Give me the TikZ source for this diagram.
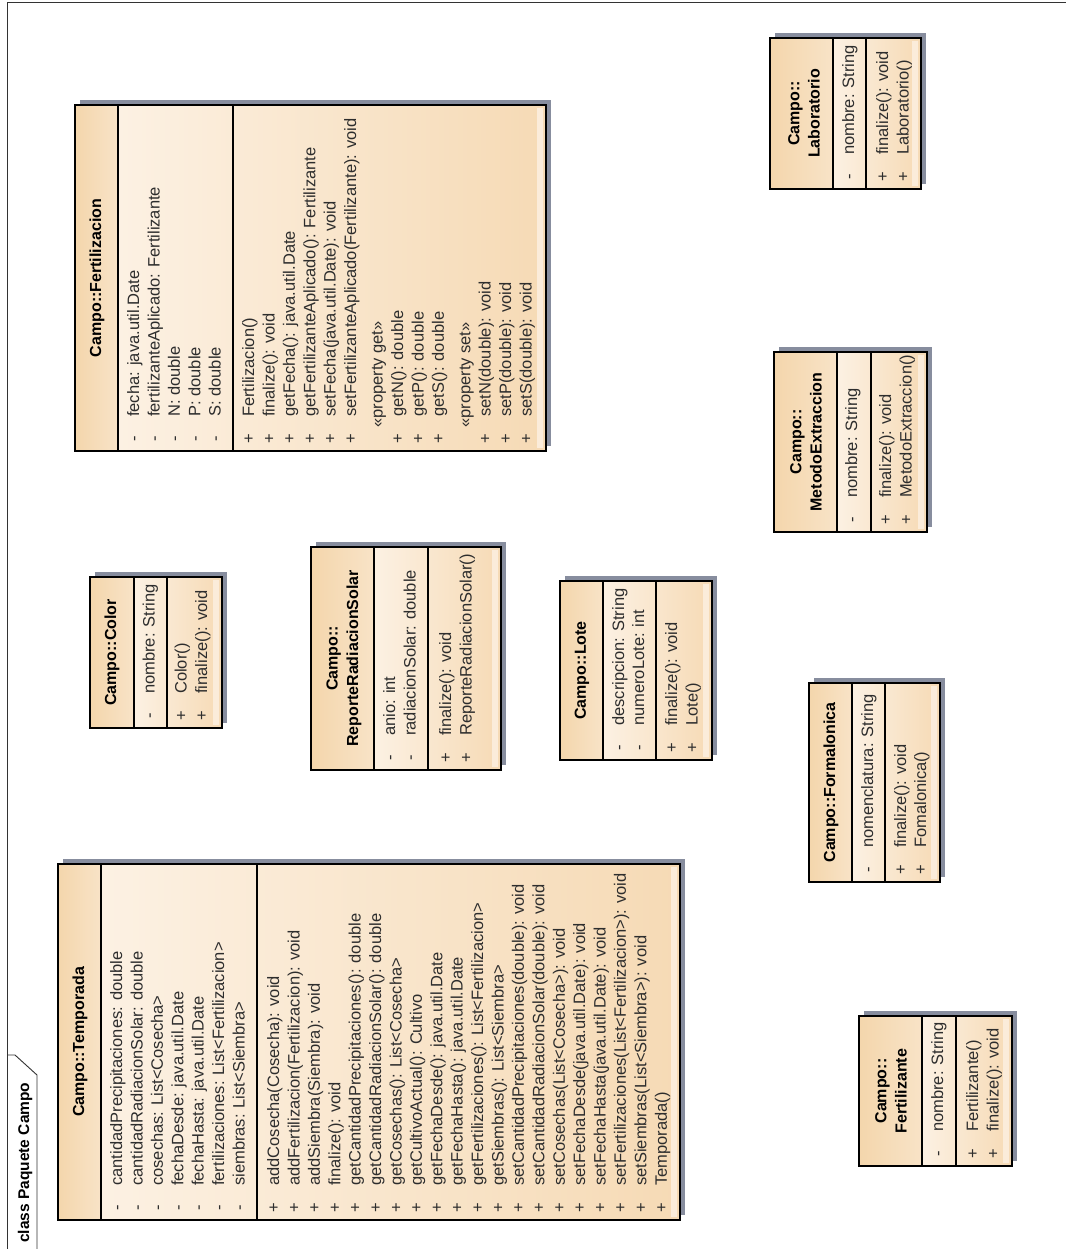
\documentclass[tikz,border=0pt]{standalone}
\usepackage{fontspec}
\setmainfont{Liberation Sans}
\definecolor{shadowc}{RGB}{135,141,158}
\definecolor{bodyl}{RGB}{252,241,227}
\definecolor{bodyr}{RGB}{246,218,181}
\definecolor{headl}{RGB}{244,214,172}
\definecolor{headr}{RGB}{248,227,199}
\definecolor{stripc}{RGB}{251,236,218}
\definecolor{txt}{RGB}{45,45,45}
% class box: left, top, right, bottom, header separator, attribute separator
\newcommand\umlbox[6]{%
  \fill[shadowc] (#1+5,#2-5) rectangle (#3+5,#4-5);
  \fill[bodyshade] (#5,#2) rectangle (#3,#4);
  \fill[headshade] (#1,#2) rectangle (#5,#4);
  \fill[stripc] (#3-9,#2+3) rectangle (#3-3,#4-3);
  \draw[sepline] (#5,#2) -- (#5,#4) (#6,#2) -- (#6,#4);
  \draw[outline] (#1,#2) rectangle (#3,#4);
}
% one feature line: name, x of line, box bottom, visibility, text
\newcommand\feat[5]{%
  \node[vis] (#1-v) at (#2+1.5,#3-12) {#4};
  \node[member] (#1) at (#2+1.5,#3-34) {#5};
}
% stereotype line: name, x of line, box bottom, text
\newcommand\stereo[4]{%
  \node[member] (#1) at (#2+1.5,#3-23) {#4};
}
\begin{document}
\begin{tikzpicture}[x=1pt,y=-1pt,
  bodyshade/.style={left color=bodyl,right color=bodyr},
  headshade/.style={left color=headl,right color=headr},
  outline/.style={draw=black,line width=1.4pt},
  sepline/.style={draw=black,line width=1.2pt},
  member/.style={rotate=90,anchor=mid west,inner sep=0pt,text=txt,
    font=\fontsize{16.5}{20}\selectfont},
  vis/.style={rotate=90,anchor=mid,inner sep=0pt,text=txt,
    font=\fontsize{16.5}{20}\selectfont},
  title/.style={rotate=90,anchor=center,inner sep=0pt,align=center,
    font=\fontsize{16}{20.4}\selectfont\bfseries},
  frameline/.style={draw=black!80,line width=0.9pt},
]
\useasboundingbox (0,0) rectangle (1066,1249);
\fill[white] (0,0) rectangle (1066,1249);

% package frame and tab
\draw[frameline] (7,1249) -- (7,2) -- (1066,2);
\draw[frameline] (7,1055) -- (15,1055) -- (37,1075) -- (37,1249);
\node[rotate=90,anchor=base west,inner sep=0pt,
  font=\fontsize{15.5}{18}\selectfont\bfseries] (pkg) at (29,1243) {class Paquete Campo};

% ---------------- Temporada
\umlbox{58}{864}{680}{1220}{101}{257}
\node[title] (temporada) at (80,1042) {Campo::Temporada};
\feat{t1}{118}{1220}{-}{cantidadPrecipitaciones: double}
\feat{t2}{138.4}{1220}{-}{cantidadRadiacionSolar: double}
\feat{t3}{158.8}{1220}{-}{cosechas: List<Cosecha>}
\feat{t4}{179.2}{1220}{-}{fechaDesde: java.util.Date}
\feat{t5}{199.6}{1220}{-}{fechaHasta: java.util.Date}
\feat{t6}{220}{1220}{-}{fertilizaciones: List<Fertilizacion>}
\feat{t7}{240.4}{1220}{-}{siembras: List<Siembra>}
\feat{tm1}{275}{1220}{+}{addCosecha(Cosecha): void}
\feat{tm2}{295.4}{1220}{+}{addFertilizacion(Fertilizacion): void}
\feat{tm3}{315.8}{1220}{+}{addSiembra(Siembra): void}
\feat{tm4}{336.2}{1220}{+}{finalize(): void}
\feat{tm5}{356.6}{1220}{+}{getCantidadPrecipitaciones(): double}
\feat{tm6}{377}{1220}{+}{getCantidadRadiacionSolar(): double}
\feat{tm7}{397.4}{1220}{+}{getCosechas(): List<Cosecha>}
\feat{tm8}{417.8}{1220}{+}{getCultivoActual(): Cultivo}
\feat{tm9}{438.2}{1220}{+}{getFechaDesde(): java.util.Date}
\feat{tm10}{458.6}{1220}{+}{getFechaHasta(): java.util.Date}
\feat{tm11}{479}{1220}{+}{getFertilizaciones(): List<Fertilizacion>}
\feat{tm12}{499.4}{1220}{+}{getSiembras(): List<Siembra>}
\feat{tm13}{519.8}{1220}{+}{setCantidadPrecipitaciones(double): void}
\feat{tm14}{540.2}{1220}{+}{setCantidadRadiacionSolar(double): void}
\feat{tm15}{560.6}{1220}{+}{setCosechas(List<Cosecha>): void}
\feat{tm16}{581}{1220}{+}{setFechaDesde(java.util.Date): void}
\feat{tm17}{601.4}{1220}{+}{setFechaHasta(java.util.Date): void}
\feat{tm18}{621.8}{1220}{+}{setFertilizaciones(List<Fertilizacion>): void}
\feat{tm19}{642.2}{1220}{+}{setSiembras(List<Siembra>): void}
\feat{tm20}{662.6}{1220}{+}{Temporada()}

% ---------------- Fertilizacion
\umlbox{75}{105}{546}{451}{118}{233}
\node[title] (fertilizacion) at (97,278) {Campo::Fertilizacion};
\feat{f1}{135}{451}{-}{fecha: java.util.Date}
\feat{f2}{155.4}{451}{-}{fertilizanteAplicado: Fertilizante}
\feat{f3}{175.8}{451}{-}{N: double}
\feat{f4}{196.2}{451}{-}{P: double}
\feat{f5}{216.6}{451}{-}{S: double}
\feat{fm1}{250}{451}{+}{Fertilizacion()}
\feat{fm2}{270.4}{451}{+}{finalize(): void}
\feat{fm3}{290.8}{451}{+}{getFecha(): java.util.Date}
\feat{fm4}{311.2}{451}{+}{getFertilizanteAplicado(): Fertilizante}
\feat{fm5}{331.6}{451}{+}{setFecha(java.util.Date): void}
\feat{fm6}{352}{451}{+}{setFertilizanteAplicado(Fertilizante): void}
\stereo{fsg}{378.6}{451}{«property get»}
\feat{fm7}{399}{451}{+}{getN(): double}
\feat{fm8}{419.4}{451}{+}{getP(): double}
\feat{fm9}{439.8}{451}{+}{getS(): double}
\stereo{fss}{466.2}{451}{«property set»}
\feat{fm10}{486.6}{451}{+}{setN(double): void}
\feat{fm11}{507}{451}{+}{setP(double): void}
\feat{fm12}{527.4}{451}{+}{setS(double): void}

% ---------------- Color
\umlbox{90}{577}{222}{728}{134}{167}
\node[title] (color) at (112,652.5) {Campo::Color};
\feat{c1}{150.5}{728}{-}{nombre: String}
\feat{cm1}{182.5}{728}{+}{Color()}
\feat{cm2}{203}{728}{+}{finalize(): void}

% ---------------- ReporteRadiacionSolar
\umlbox{311}{547}{501}{770}{374}{428}
\node[title] (reporte) at (344,658.5) {Campo::\\ReporteRadiacionSolar};
\feat{r1}{391}{770}{-}{anio: int}
\feat{r2}{411.4}{770}{-}{radiacionSolar: double}
\feat{rm1}{447}{770}{+}{finalize(): void}
\feat{rm2}{467.4}{770}{+}{ReporteRadiacionSolar()}

% ---------------- Lote
\umlbox{560}{581}{712}{760}{603}{656}
\node[title] (lote) at (582,670.5) {Campo::Lote};
\feat{l1}{620}{760}{-}{descripcion: String}
\feat{l2}{640}{760}{-}{numeroLote: int}
\feat{lm1}{673}{760}{+}{finalize(): void}
\feat{lm2}{693.5}{760}{+}{Lote()}

% ---------------- Laboratorio
\umlbox{770}{38}{921}{189}{833}{866}
\node[title] (laboratorio) at (804,113.5) {Campo::\\Laboratorio};
\feat{b1}{850}{189}{-}{nombre: String}
\feat{bm1}{884}{189}{+}{finalize(): void}
\feat{bm2}{904.5}{189}{+}{Laboratorio()}

% ---------------- MetodoExtraccion
\umlbox{774}{352}{927}{532}{837}{871}
\node[title] (metodo) at (806,442) {Campo::\\MetodoExtraccion};
\feat{m1}{853}{532}{-}{nombre: String}
\feat{mm1}{887}{532}{+}{finalize(): void}
\feat{mm2}{907.5}{532}{+}{MetodoExtraccion()}

% ---------------- Formalonica
\umlbox{809}{683}{940}{882}{852}{885}
\node[title] (formalonica) at (831,782.5) {Campo::Formalonica};
\feat{o1}{869}{882}{-}{nomenclatura: String}
\feat{om1}{902}{882}{+}{finalize(): void}
\feat{om2}{922}{882}{+}{Fomalonica()}

% ---------------- Fertilizante
\umlbox{859}{1016}{1012}{1166}{922}{956}
\node[title] (fertilizante) at (891,1091) {Campo::\\Fertilizante};
\feat{z1}{939}{1166}{-}{nombre: String}
\feat{zm1}{974}{1166}{+}{Fertilizante()}
\feat{zm2}{994.5}{1166}{+}{finalize(): void}
\end{tikzpicture}
\end{document}
